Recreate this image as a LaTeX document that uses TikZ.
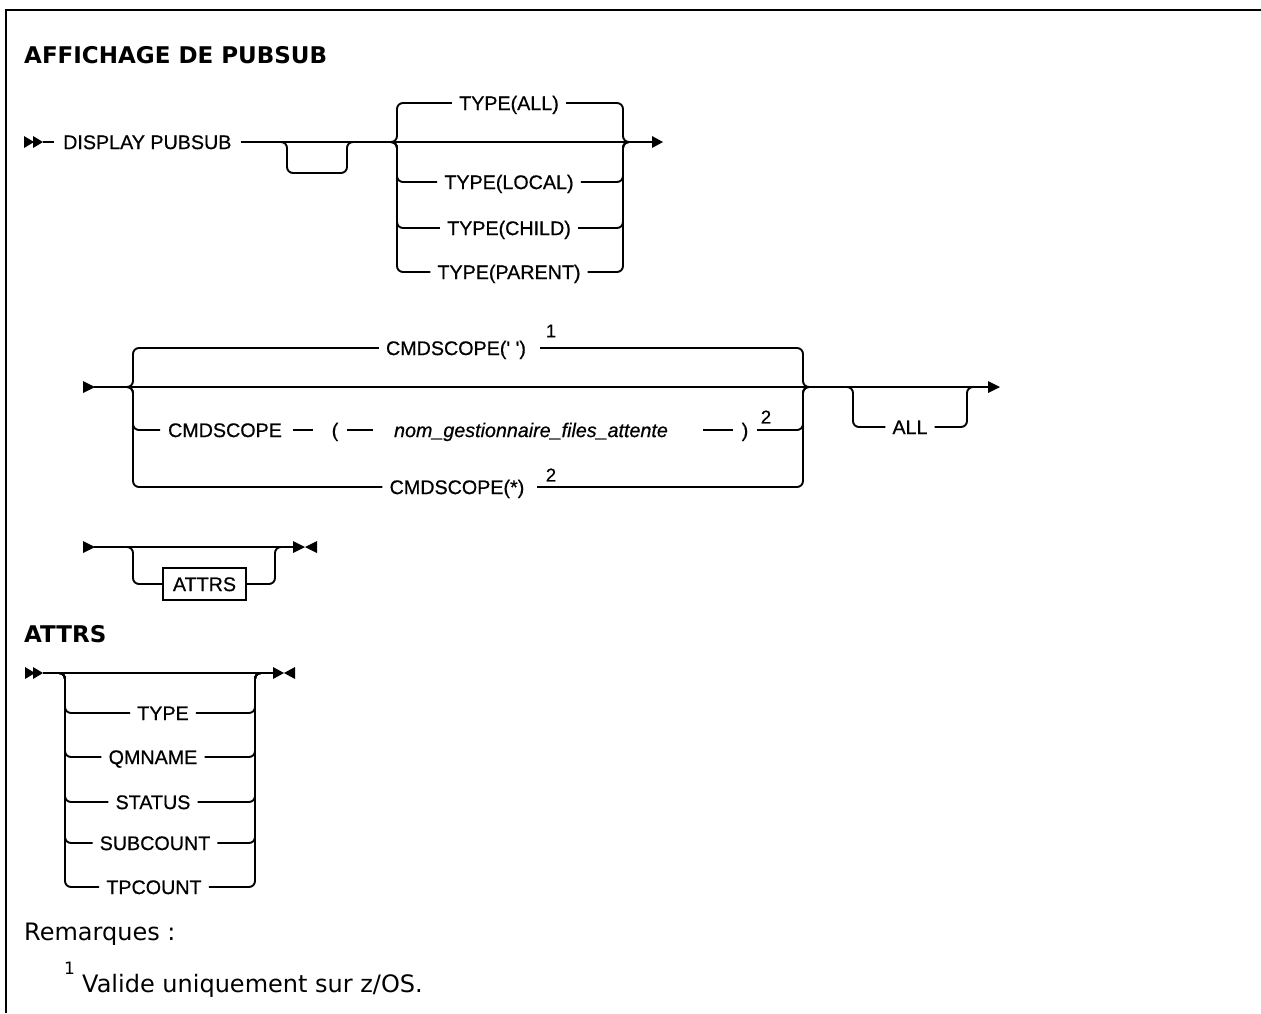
\documentclass[tikz,border=0pt]{standalone}
\usepackage{fontspec}
\setmainfont{Liberation Sans}
\newfontfamily\kwfont[FakeBold=0.6]{Liberation Sans}
\newfontfamily\dvfont{DejaVu Sans}
\begin{document}
\begin{tikzpicture}[x=1pt,y=-1pt,
  rail/.style={line width=1.9pt, rounded corners=6pt},
  kw/.style={font=\kwfont\fontsize{19.7}{22}\selectfont, text height=14.1pt, text depth=0pt, inner ysep=0pt, inner xsep=7pt},
  kwi/.style={kw, font=\kwfont\fontsize{19.7}{22}\selectfont\itshape},
  supn/.style={font=\kwfont\fontsize{18.5}{20}\selectfont, inner sep=0pt},
  head/.style={anchor=base west, inner sep=0pt, font=\dvfont\bfseries\fontsize{23}{26}\selectfont},
  body/.style={anchor=base west, inner sep=0pt, font=\dvfont\fontsize{24}{28}\selectfont}
]
\useasboundingbox (0,0) rectangle (1261,1013);
% frame
\draw[line width=2.2pt] (6,1013) -- (6,10) -- (1261,10);

% title
\node[head] (title) at (24,63) {AFFICHAGE DE PUBSUB};

% ---------- line 1 ----------
\fill (24,136) -- (34,142) -- (24,148) -- cycle;
\fill (33,136) -- (43,142) -- (33,148) -- cycle;
\coordinate (s1) at (43,142);
\node[kw, anchor=west, inner xsep=9pt] (disp) at (54,142) {DISPLAY PUBSUB};
\coordinate (e1) at (652,142);
\draw[rail] (s1) -- (disp.west);
\draw[rail] (disp.east) -- (e1);
\fill (652,136) -- (663,142) -- (652,148) -- cycle;
% empty loop
\draw[rail] (277,142) -- (287,142) -- (287,173) -- (347,173) -- (347,142) -- (357,142);
% TYPE group
\node[kw] (tall) at (509,103) {TYPE(ALL)};
\node[kw] (tloc) at (509,182) {TYPE(LOCAL)};
\node[kw] (tchi) at (509,228) {TYPE(CHILD)};
\node[kw] (tpar) at (509,272) {TYPE(PARENT)};
\foreach \n in {tall,tloc,tchi,tpar}{
  \draw[rail] (387,142) -- (397,142) |- (\n.west);
  \draw[rail] (\n.east) -| (623,142) -- (633,142);
}

% ---------- line 2 ----------
\fill (83,381) -- (95,387) -- (83,393) -- cycle;
\coordinate (s2) at (94,387);
\coordinate (e2) at (989,387);
\draw[rail] (s2) -- (e2);
\fill (988,381) -- (1000,387) -- (988,393) -- cycle;
% branch 1
\node[kw] (c1) at (456,348) {CMDSCOPE(\textquotesingle\ \textquotesingle)};
\node[supn] (n1) at (551,331) {1};
\draw[rail] (123,387) -- (133,387) |- (c1.west);
\draw[rail] (540,348) -| (803,387) -- (813,387);
% branch 2
\node[kw, inner xsep=0pt] (c2) at (225,430) {CMDSCOPE};
\node[kw, inner xsep=0pt] (lp) at (335,430) {(};
\node[kwi, inner xsep=0pt] (qm) at (531,430) {nom\_gestionnaire\_files\_attente};
\node[kw, inner xsep=0pt] (rp) at (745,430) {)};
\node[supn] (n2) at (766,417) {2};
\draw[rail] (123,387) -- (133,387) |- (160,430);
\draw[rail] (293,430) -- (313,430);
\draw[rail] (347,430) -- (373,430);
\draw[rail] (703,430) -- (733,430);
\draw[rail] (757,430) -| (803,387) -- (813,387);
% branch 3
\node[kw] (c3) at (457,487) {CMDSCOPE(*)};
\node[supn] (n3) at (551,475) {2};
\draw[rail] (123,387) -- (133,387) |- (c3.west);
\draw[rail] (537,487) -| (803,387) -- (813,387);
% ALL loop
\node[kw] (all) at (910,427) {ALL};
\draw[rail] (843,387) -- (853,387) |- (all.west);
\draw[rail] (all.east) -| (967,387) -- (977,387);

% ---------- line 3 ----------
\fill (83,541) -- (95,547) -- (83,553) -- cycle;
\coordinate (s3) at (94,547);
\coordinate (e3) at (293,547);
\draw[rail] (s3) -- (e3);
\fill (293,541) -- (305,547) -- (293,553) -- cycle;
\fill (317,541) -- (305,547) -- (317,553) -- cycle;
\node[kw, draw, line width=1.3pt, minimum width=83pt, minimum height=32pt, inner sep=0pt, text height=14.1pt] (attrs) at (204.5,584) {ATTRS};
\draw[rail] (123,547) -- (133,547) |- (attrs.west);
\draw[rail] (attrs.east) -| (275,547) -- (285,547);

% ---------- ATTRS ----------
\node[head] (h2) at (24,642) {ATTRS};
\fill (25,667) -- (35,673) -- (25,679) -- cycle;
\fill (33,667) -- (43,673) -- (33,679) -- cycle;
\coordinate (s4) at (43,673);
\coordinate (e4) at (273,673);
\draw[rail] (s4) -- (e4);
\fill (273,667) -- (284,673) -- (273,679) -- cycle;
\fill (295,667) -- (284,673) -- (295,679) -- cycle;
\node[kw] (a1) at (163,713) {TYPE};
\node[kw] (a2) at (153,757) {QMNAME};
\node[kw] (a3) at (153,802) {STATUS};
\node[kw] (a4) at (155,843) {SUBCOUNT};
\node[kw] (a5) at (154,887) {TPCOUNT};
\foreach \n in {a1,a2,a3,a4,a5}{
  \draw[rail] (55,673) -- (65,673) |- (\n.west);
  \draw[rail] (\n.east) -| (255,673) -- (265,673);
}

% ---------- notes ----------
\node[body] (rem) at (24,940) {Remarques :};
\node[anchor=base west, inner sep=0pt, font=\dvfont\fontsize{17}{18}\selectfont] (fn1) at (64,974) {1};
\node[body] (f1) at (82,992) {Valide uniquement sur z/OS.};
\end{tikzpicture}
\end{document}
